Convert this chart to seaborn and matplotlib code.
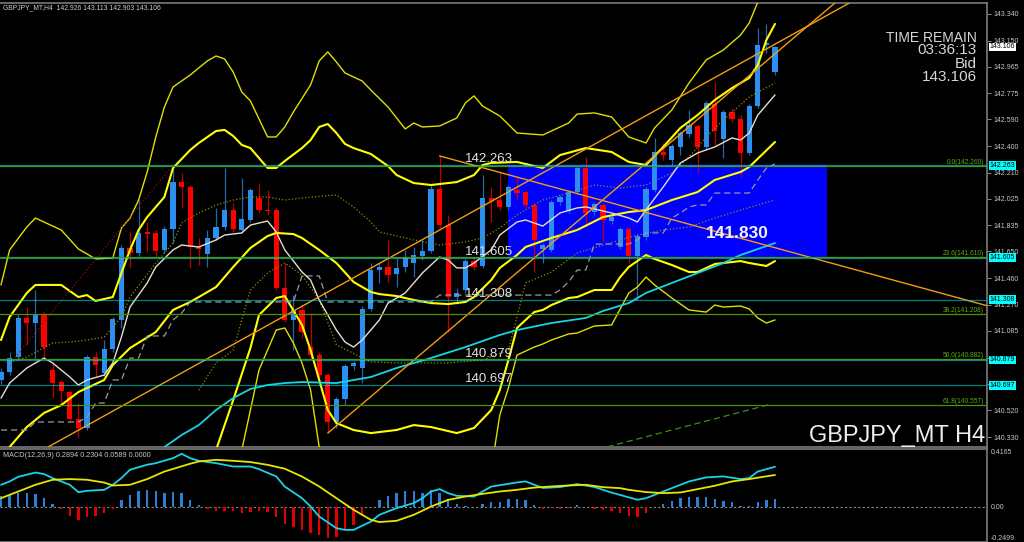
import numpy as np
import seaborn as sns
import matplotlib.pyplot as plt
from matplotlib.patches import Rectangle

# ---- H4 candles GBPJPY (oldest -> newest) ----
opens = [140.736, 140.792, 140.899, 141.177, 141.141, 141.205, 140.807, 140.721, 140.650, 140.458,
         140.394, 140.899, 140.785, 140.956, 141.163, 141.675, 141.639, 141.789, 141.782, 141.661,
         141.810, 142.145, 142.109, 141.682, 141.632, 141.746, 141.824, 141.945, 141.803, 141.874,
         142.031, 141.945, 141.945, 141.390, 141.163, 141.234, 140.970, 140.913, 140.771, 140.437,
         140.600, 140.835, 140.821, 141.241, 141.518, 141.540, 141.490, 141.540, 141.568, 141.618,
         141.654, 142.095, 141.839, 141.326, 141.376, 141.582, 141.547, 142.031, 142.016, 141.967,
         142.088, 142.073, 141.981, 141.668, 141.661, 142.002, 141.938, 142.073, 142.244, 141.931,
         141.981, 141.867, 141.682, 141.810, 141.618, 141.753, 142.088, 142.358, 142.301, 142.394,
         142.486, 142.543, 142.394, 142.700, 142.450, 142.643, 142.593, 142.351, 142.685, 143.119,
         142.926]
highs = [140.821, 140.935, 141.205, 141.255, 141.376, 141.219, 140.857, 140.736, 140.664, 140.572,
         140.913, 140.935, 141.020, 141.184, 141.696, 141.789, 142.016, 141.860, 141.803, 141.831,
         142.251, 142.209, 142.123, 141.746, 141.803, 141.960, 142.244, 141.995, 142.173, 142.102,
         142.137, 142.088, 141.960, 141.568, 141.340, 141.269, 141.212, 140.935, 140.785, 140.615,
         140.849, 140.871, 141.262, 141.568, 141.568, 141.732, 141.604, 141.661, 141.682, 141.732,
         142.123, 142.330, 141.910, 141.390, 141.597, 141.604, 142.194, 142.109, 142.216, 142.123,
         142.187, 142.088, 141.995, 141.710, 142.016, 142.052, 142.088, 142.258, 142.322, 142.002,
         141.995, 141.910, 141.824, 141.824, 141.774, 142.109, 142.458, 142.422, 142.415, 142.507,
         142.657, 142.557, 142.721, 142.856, 142.657, 142.671, 142.621, 142.700, 143.240, 143.269,
         143.113]
lows = [140.707, 140.771, 140.878, 140.985, 140.878, 140.892, 140.615, 140.558, 140.444, 140.330,
        140.380, 140.757, 140.764, 140.935, 141.106, 141.533, 141.618, 141.646, 141.611, 141.639,
        141.710, 141.960, 141.533, 141.554, 141.540, 141.732, 141.803, 141.789, 141.782, 141.860,
        141.924, 141.910, 141.376, 141.148, 140.949, 141.034, 140.892, 140.750, 140.358, 140.394,
        140.558, 140.807, 140.714, 141.227, 141.426, 141.433, 141.397, 141.504, 141.469, 141.589,
        141.639, 141.817, 141.077, 141.276, 141.355, 141.518, 141.533, 141.860, 141.945, 141.945,
        142.016, 141.960, 141.504, 141.568, 141.646, 141.981, 141.924, 142.059, 141.824, 141.910,
        141.718, 141.846, 141.668, 141.568, 141.305, 141.732, 142.073, 142.301, 142.266, 142.337,
        142.465, 142.209, 142.372, 142.408, 142.315, 142.571, 142.180, 142.337, 142.671, 143.062,
        142.903]
closes = [140.792, 140.892, 141.177, 141.141, 141.205, 140.970, 140.714, 140.657, 140.458, 140.394,
          140.899, 140.842, 140.956, 141.170, 141.675, 141.639, 141.782, 141.774, 141.654, 141.810,
          142.145, 142.109, 141.682, 141.668, 141.746, 141.824, 141.945, 141.810, 141.881, 142.088,
          141.945, 141.938, 141.390, 141.163, 141.234, 141.077, 140.913, 140.771, 140.437, 140.600,
          140.835, 140.857, 141.241, 141.518, 141.540, 141.483, 141.533, 141.611, 141.625, 141.654,
          142.095, 141.839, 141.326, 141.355, 141.582, 141.540, 142.031, 142.009, 141.967, 142.109,
          142.066, 141.981, 141.732, 141.696, 142.002, 142.038, 142.073, 142.244, 141.924, 141.988,
          141.874, 141.895, 141.810, 141.618, 141.760, 142.095, 142.358, 142.337, 142.401, 142.493,
          142.550, 142.394, 142.707, 142.507, 142.643, 142.593, 142.351, 142.685, 143.119, 143.134,
          143.106]

# ---- indicator lines read at bar indices ----
bb3_up_idx = [0, 1, 3, 4, 7, 9, 11, 13, 14, 15, 16, 17, 18, 19, 20, 22, 24, 25, 26, 27,
              28, 29, 31, 32, 33, 34, 36, 37, 38, 39, 40, 42, 43, 45, 47, 48, 49, 51, 53, 54,
              55, 56, 58, 60, 63, 66, 67, 69, 71, 73, 75, 76, 78, 80, 82, 84, 86, 87, 88, 90]
bb3_up = [141.412, 141.661, 141.824, 141.888, 141.803, 141.668, 141.597, 141.604, 141.817, 141.888,
          142.016, 142.216, 142.465, 142.678, 142.820, 142.906, 143.006, 143.041, 143.020, 142.927,
          142.785, 142.721, 142.465, 142.465, 142.536, 142.643, 142.835, 143.006, 143.070, 142.998,
          142.920, 142.863, 142.799, 142.678, 142.522, 142.564, 142.536, 142.543, 142.600, 142.707,
          142.757, 142.685, 142.614, 142.493, 142.479, 142.564, 142.628, 142.636, 142.607, 142.465,
          142.422, 142.529, 142.657, 142.849, 143.013, 143.084, 143.190, 143.276, 143.425, 143.653]

bb2_up_idx = [0, 1, 3, 4, 7, 9, 10, 11, 13, 14, 15, 16, 17, 19, 20, 22, 23, 25, 26, 27,
              28, 29, 31, 32, 33, 35, 36, 37, 38, 39, 40, 41, 43, 45, 46, 48, 50, 53, 55, 56,
              57, 60, 63, 65, 68, 71, 73, 75, 77, 79, 81, 83, 85, 87, 88, 89, 90]
bb2_up = [141.020, 141.184, 141.355, 141.412, 141.412, 141.326, 141.340, 141.298, 141.326, 141.497,
          141.661, 141.803, 141.895, 142.038, 142.244, 142.372, 142.422, 142.507, 142.515, 142.472,
          142.408, 142.386, 142.244, 142.244, 142.294, 142.386, 142.443, 142.536, 142.557, 142.493,
          142.415, 142.386, 142.344, 142.258, 142.194, 142.137, 142.123, 142.144, 142.194, 142.265,
          142.280, 142.287, 142.244, 142.336, 142.386, 142.358, 142.287, 142.265, 142.394, 142.529,
          142.621, 142.728, 142.813, 142.885, 142.977, 143.155, 143.269]

bb_mid_idx = [1, 3, 5, 7, 9, 12, 13, 15, 18, 20, 22, 23, 25, 27, 29, 31, 32, 34, 35, 37,
              39, 41, 43, 44, 46, 48, 50, 52, 54, 55, 57, 58, 60, 61, 63, 64, 67, 70, 73, 75,
              78, 81, 83, 86, 87, 90]
bb_mid = [140.259, 140.401, 140.501, 140.557, 140.650, 140.736, 140.842, 140.963, 141.077, 141.234,
          141.291, 141.326, 141.397, 141.540, 141.675, 141.760, 141.782, 141.774, 141.746, 141.661,
          141.568, 141.433, 141.362, 141.347, 141.333, 141.305, 141.283, 141.276, 141.291, 141.326,
          141.447, 141.533, 141.625, 141.682, 141.725, 141.746, 141.803, 141.895, 141.931, 141.945,
          142.016, 142.073, 142.159, 142.216, 142.251, 142.429]

bb2_lo_idx = [25, 27, 29, 30, 32, 33, 35, 36, 37, 38, 39, 41, 43, 46, 48, 50, 53, 55, 57, 58,
              59, 60, 62, 63, 64, 66, 67, 69, 71, 72, 73, 75, 76, 78, 80, 81, 83, 84, 86, 87,
              89, 90]
bb2_lo = [140.237, 140.593, 140.963, 141.198, 141.319, 141.333, 141.127, 140.949, 140.736, 140.522,
          140.429, 140.380, 140.358, 140.380, 140.415, 140.401, 140.358, 140.394, 140.522, 140.664,
          140.878, 141.106, 141.219, 141.234, 141.269, 141.319, 141.326, 141.376, 141.376, 141.468,
          141.540, 141.625, 141.597, 141.554, 141.504, 141.504, 141.561, 141.568, 141.582, 141.568,
          141.547, 141.582]

# outer lower band leaves the window in the middle -> two pieces
bb3_lo_a_idx = [28, 29, 30, 32, 33, 34, 35, 36, 37, 38]
bb3_lo_a = [140.237, 140.522, 140.807, 141.091, 141.106, 140.998, 140.857, 140.664, 140.259, 140.060]
bb3_lo_b_idx = [57, 58, 59, 60, 62, 63, 64, 66, 67, 69, 71, 73, 74, 75, 76, 78, 80, 82, 83, 84,
                86, 87, 88, 89, 90]
bb3_lo_b = [140.095, 140.487, 140.679, 140.913, 140.970, 140.992, 141.020, 141.063, 141.070, 141.120,
            141.127, 141.355, 141.397, 141.468, 141.412, 141.319, 141.234, 141.219, 141.269, 141.255,
            141.262, 141.241, 141.177, 141.141, 141.163]

ma_fast_idx = [0, 1, 3, 5, 6, 8, 9, 10, 12, 13, 14, 15, 17, 18, 20, 21, 23, 25, 26, 28,
               29, 31, 32, 33, 35, 36, 37, 39, 40, 41, 42, 44, 45, 47, 49, 51, 52, 53, 54, 55,
               57, 58, 60, 61, 63, 65, 67, 68, 71, 73, 74, 75, 77, 79, 81, 83, 85, 86, 87, 88, 90]
ma_fast = [140.607, 140.714, 140.821, 140.892, 140.857, 140.757, 140.700, 140.736, 140.771, 140.857,
           141.041, 141.255, 141.426, 141.540, 141.661, 141.696, 141.682, 141.732, 141.767, 141.782,
           141.838, 141.867, 141.789, 141.661, 141.504, 141.447, 141.305, 141.091, 141.006, 140.970,
           141.020, 141.163, 141.283, 141.355, 141.497, 141.611, 141.589, 141.533, 141.533, 141.568,
           141.661, 141.767, 141.860, 141.874, 141.831, 141.924, 141.960, 141.967, 141.924, 141.888,
           141.860, 141.946, 142.109, 142.280, 142.351, 142.394, 142.458, 142.443, 142.493, 142.621,
           142.764]

ma_dot_up_idx = [1, 3, 6, 8, 10, 12, 14, 15, 18, 20, 21, 23, 25, 27, 29, 31, 33, 35, 39, 41,
                 43, 44, 48, 51, 54, 56, 58, 60, 63, 66, 69, 72, 75, 78, 80, 82, 84, 87, 90]
ma_dot_up = [140.863, 140.899, 140.999, 141.006, 141.020, 141.041, 141.184, 141.326, 141.568, 141.710,
             141.853, 141.924, 141.981, 142.016, 142.038, 142.038, 142.016, 142.031, 142.052, 141.967,
             141.860, 141.789, 141.732, 141.696, 141.718, 141.746, 141.817, 141.910, 142.017, 142.066,
             142.123, 142.102, 142.123, 142.209, 142.322, 142.465, 142.586, 142.749, 142.849]

ma_dot_lo_idx = [23, 25, 27, 29, 31, 33, 35, 37, 39, 43, 46, 52, 56, 59, 61, 64, 67, 70, 74, 77,
                 80, 83, 86, 90]
ma_dot_lo = [140.664, 140.857, 140.949, 141.376, 141.497, 141.568, 141.483, 141.305, 140.985, 140.864,
             140.857, 140.857, 140.878, 140.949, 141.426, 141.504, 141.639, 141.696, 141.767, 141.803,
             141.824, 141.888, 141.945, 142.017]

ma_slow_idx = [17, 19, 21, 23, 25, 27, 29, 31, 33, 35, 39, 43, 46, 50, 54, 58, 60, 64, 68, 70,
               73, 75, 78, 81, 84, 86, 90]
ma_slow = [140.131, 140.259, 140.344, 140.415, 140.522, 140.607, 140.672, 140.700, 140.714, 140.721,
           140.714, 140.757, 140.821, 140.892, 140.970, 141.056, 141.091, 141.141, 141.177, 141.227,
           141.283, 141.355, 141.426, 141.497, 141.568, 141.625, 141.710]

# stepped dashed line, one value per bar
kijun = [140.380, 140.380, 140.380, 140.380, 140.437, 140.437, 140.437, 140.437, 140.437, 140.437,
         140.472, 140.572, 140.572, 140.736, 140.736, 140.892, 140.892, 141.049, 141.049, 141.049,
         141.163, 141.212, 141.291, 141.291, 141.291, 141.291, 141.291, 141.291, 141.291, 141.291,
         141.291, 141.291, 141.291, 141.291, 141.291, 141.476, 141.476, 141.476, 141.291, 141.291,
         141.291, 141.291, 141.291, 141.291, 141.291, 141.291, 141.291, 141.291, 141.291, 141.291,
         141.291, 141.340, 141.340, 141.340, 141.340, 141.340, 141.340, 141.340, 141.340, 141.340,
         141.340, 141.340, 141.340, 141.340, 141.340, 141.376, 141.433, 141.518, 141.518, 141.703,
         141.703, 141.703, 141.703, 141.703, 141.732, 141.782, 141.782, 141.782, 141.888, 141.924,
         141.967, 141.981, 141.981, 142.066, 142.066, 142.066, 142.066, 142.066, 142.159, 142.244,
         142.273]

# drawn objects: trend lines (bar index, price) pairs
trend_a = ([5.5, 98.7], [140.260, 143.420])
trend_b = ([38.0, 97.0], [140.358, 143.420])
trend_c = ([51.0, 114.6], [142.330, 141.265])
red_dotted = ([1.4, 19.7], [140.878, 142.244])
green_dashed = ([70.5, 89.6], [140.260, 140.565])

rect_from, rect_to = 59, 96
rect_hi, rect_lo = 142.263, 141.605

hlines = [142.263, 141.605, 141.308, 140.879, 140.697]
fib_levels = [142.260, 141.610, 141.208, 140.882, 140.557]
fib_names = ['0.0', '23.6', '38.2', '50.0', '61.8']

price_ticks = [143.340, 143.150, 142.965, 142.775, 142.590, 142.400, 142.210, 142.025, 141.835,
               141.650, 141.460, 141.270, 141.085, 140.895, 140.705, 140.520, 140.330]
hidden_ticks = [140.895, 140.705]   # covered by the price boxes on the scale
bid = 143.106

# MACD panel
macd_idx = [0, 1, 2, 4, 5, 6, 8, 9, 10, 12, 13, 14, 15, 17, 18, 20, 21, 22, 23, 25,
            27, 29, 30, 32, 33, 35, 36, 37, 39, 40, 41, 43, 44, 46, 48, 49, 50, 51, 52, 53,
            55, 56, 57, 60, 61, 63, 65, 67, 69, 71, 74, 75, 77, 79, 80, 82, 84, 86, 87, 88, 90]
macd_main = [0.160, 0.184, 0.217, 0.248, 0.237, 0.208, 0.160, 0.107, 0.117, 0.124,
             0.160, 0.208, 0.268, 0.304, 0.315, 0.351, 0.382, 0.351, 0.332, 0.315,
             0.291, 0.291, 0.272, 0.220, 0.147, 0.064, 0.004, -0.067, -0.151, -0.163,
             -0.163, -0.104, -0.055, -0.007, 0.029, 0.064, 0.112, 0.129, 0.100, 0.081,
             0.076, 0.112, 0.147, 0.177, 0.184, 0.137, 0.144, 0.165, 0.144, 0.104,
             0.053, 0.064, 0.112, 0.160, 0.184, 0.213, 0.220, 0.201, 0.208, 0.255, 0.2894]
signal_idx = [0, 2, 4, 6, 8, 10, 12, 13, 15, 17, 19, 22, 23, 25, 27, 29, 31, 33, 35, 37,
              39, 41, 43, 44, 46, 48, 50, 52, 54, 56, 58, 60, 62, 64, 66, 68, 70, 72, 73, 75,
              77, 79, 81, 83, 85, 87, 90]
macd_signal = [0.064, 0.112, 0.160, 0.196, 0.201, 0.196, 0.176, 0.155, 0.160, 0.201,
               0.255, 0.311, 0.327, 0.339, 0.332, 0.323, 0.303, 0.275, 0.219, 0.148,
               0.064, -0.019, -0.091, -0.107, -0.098, -0.055, 0.004, 0.052, 0.076, 0.095,
               0.112, 0.124, 0.140, 0.148, 0.155, 0.160, 0.143, 0.136, 0.124, 0.108,
               0.100, 0.105, 0.129, 0.153, 0.184, 0.201, 0.2304]
osma = [0.080, 0.088, 0.104, 0.100, 0.093, 0.064, 0.023, -0.014, -0.063, -0.091,
        -0.071, -0.063, -0.043, -0.010, 0.053, 0.088, 0.117, 0.124, 0.112, 0.100,
        0.107, 0.100, 0.053, 0.016, -0.010, -0.027, -0.027, -0.031, -0.043, -0.034,
        -0.031, -0.036, -0.071, -0.120, -0.144, -0.163, -0.182, -0.198, -0.222, -0.211,
        -0.163, -0.127, -0.067, 0.000, 0.053, 0.081, 0.104, 0.112, 0.112, 0.104,
        0.124, 0.104, 0.057, 0.023, 0.009, 0.002, 0.023, 0.038, 0.040, 0.060,
        0.060, 0.053, 0.016, -0.013, -0.009, -0.013, -0.009, 0.016, 0.002, -0.013,
        -0.020, -0.031, -0.043, -0.067, -0.071, -0.043, 0.000, 0.023, 0.046, 0.064,
        0.076, 0.069, 0.071, 0.057, 0.047, 0.038, 0.009, 0.009, 0.036, 0.053,
        0.0589]

# ---------------- style ----------------
sns.set_theme(style="dark", rc={"axes.facecolor": "black", "figure.facecolor": "black",
                                "axes.edgecolor": "#7a7a7a", "text.color": "#d0d0d0"})
plt.rcParams['font.family'] = ['Liberation Sans', 'DejaVu Sans']

fig = plt.figure(figsize=(10.24, 5.42), dpi=100)
ax = fig.add_axes([0, 1 - 447 / 542, 987 / 1024, 444 / 542])
ax2 = fig.add_axes([0, 0, 987 / 1024, 93 / 542])

x_lim = (-0.116, 114.65)
bars = np.arange(len(opens))


def line(a, xs, ys, color, lw, ls='-', z=4):
    sns.lineplot(x=xs, y=ys, ax=a, color=color, linewidth=lw, linestyle=ls,
                 estimator=None, sort=False, legend=False, zorder=z)


# blue zone
ax.add_patch(Rectangle((rect_from, rect_lo), rect_to - rect_from, rect_hi - rect_lo,
                       fc='#0000ff', ec='none', zorder=1))

# candles
o = np.array(opens); c = np.array(closes)
up = c >= o
body_col = np.where(up, '#2b8ef0', '#ff0000')
wick_col = np.where(up, '#2466aa', '#c00000')
ax.vlines(bars, lows, highs, colors=wick_col, lw=0.9, zorder=3)
ax.bar(bars, np.maximum(np.abs(c - o), 0.004), bottom=np.minimum(o, c), width=0.6,
       color=body_col, linewidth=0, zorder=3)

# indicators
line(ax, bb3_up_idx, bb3_up, '#e0e000', 1.0)
line(ax, bb3_lo_a_idx, bb3_lo_a, '#e0e000', 1.0)
line(ax, bb3_lo_b_idx, bb3_lo_b, '#e0e000', 1.0)
line(ax, bb2_up_idx, bb2_up, '#ffff00', 1.5)
line(ax, bb_mid_idx, bb_mid, '#ffff00', 1.5)
line(ax, bb2_lo_idx, bb2_lo, '#ffff00', 1.5)
line(ax, ma_dot_up_idx, ma_dot_up, '#8f8f00', 0.9, ':')
line(ax, ma_dot_lo_idx, ma_dot_lo, '#8f8f00', 0.9, ':')
line(ax, list(bars), kijun, '#9a9a9a', 0.9, (0, (5, 3)))
line(ax, ma_slow_idx, ma_slow, '#19d3e6', 1.3)
line(ax, ma_fast_idx, ma_fast, '#e8dcd0', 1.0)

# drawn lines
line(ax, *red_dotted, '#8b1010', 0.9, ':', 5)
line(ax, *green_dashed, '#3f8f10', 0.9, (0, (5, 3)), 5)
for tl in (trend_a, trend_b, trend_c):
    line(ax, *tl, '#f39c12', 1.0, '-', 5)

# fibonacci + horizontal price lines
for lv, nm in zip(fib_levels, fib_names):
    ax.axhline(lv, color='#4f8f0a', lw=0.9, zorder=5)
    ax.text(0.997, lv, f"{nm}({lv:.3f})", transform=ax.get_yaxis_transform(),
            ha='right', va='bottom', fontsize=4.8, color='#5cae0a', zorder=6)
for lv in hlines:
    ax.axhline(lv, color='#00e8e8', lw=0.9, alpha=0.55, zorder=5)
    ax.text(54, lv, f"{lv:.3f}", ha='left', va='bottom', fontsize=9.5, color='#e2e2e2',
            zorder=6)
    ax.annotate(f"{lv:.3f}", xy=(1, lv), xycoords=ax.get_yaxis_transform(),
                xytext=(2, 0), textcoords='offset points', ha='left', va='center',
                fontsize=5, color='black', annotation_clip=False, zorder=7,
                bbox=dict(boxstyle='square,pad=0.12', fc='#00ffff', ec='none'))
ax.annotate(f"{bid:.3f}", xy=(1, bid), xycoords=ax.get_yaxis_transform(),
            xytext=(2, 0), textcoords='offset points', ha='left', va='center',
            fontsize=5, color='black', annotation_clip=False, zorder=7,
            bbox=dict(boxstyle='square,pad=0.12', fc='white', ec='none'))

ax.text(82, 141.83, "141.830", ha='left', va='top', fontsize=12.5, fontweight='bold',
        color='#f2f2f2', zorder=6)

# corner texts
ax.text(0.003, 0.9887, "GBPJPY_MT,H4  142.926 143.113 142.903 143.106", transform=ax.transAxes,
        ha='left', va='center', fontsize=4.9, color='#cfcfcf')
for txt, yy, fs in [("TIME REMAIN", 0.912, 10), ("03:36:13", 0.885, 11),
                    ("Bid", 0.8536, 11), ("143.106", 0.8243, 11)]:
    ax.text(0.9899, yy, txt, transform=ax.transAxes, ha='right', va='baseline',
            fontsize=fs, color='#d6d6d6')
ax.text(0.998, 0.012, "GBPJPY_MT H4", transform=ax.transAxes, ha='right', va='baseline',
        fontsize=17, color='#eeeeee')

ax.set_xlim(*x_lim)
ax.set_ylim(140.259, 143.418)
ax.yaxis.tick_right()
ax.set_yticks(price_ticks)
ax.set_yticklabels(['' if t in hidden_ticks else f"{t:.3f}" for t in price_ticks])
ax.tick_params(axis='y', right=True, colors='#8a8a8a', labelcolor='#c8c8c8', labelsize=5,
               length=3, width=0.7, pad=1.5, direction='out')
ax.tick_params(axis='x', bottom=False, labelbottom=False)
ax.set_xlabel(''); ax.set_ylabel('')
ax.spines['left'].set_visible(False)
for s in ('top', 'bottom', 'right'):
    ax.spines[s].set_color('#7a7a7a')
    ax.spines[s].set_linewidth(1.2)

# ---------------- MACD ----------------
hist_col = np.where(np.array(osma) >= 0, '#2a7fd8', '#e00000')
ax2.bar(bars, osma, width=0.28, color=hist_col, linewidth=0, zorder=3)
ax2.axhline(0, color='#8a8a8a', lw=0.8, ls=(0, (2, 2)), zorder=2)
line(ax2, macd_idx, macd_main, '#19d3e6', 1.3)
line(ax2, signal_idx, macd_signal, '#e6e600', 1.3)
ax2.set_xlim(*x_lim)
ax2.set_ylim(-0.2499, 0.4165)
ax2.set_xticks([]); ax2.set_yticks([])
ax2.set_xlabel(''); ax2.set_ylabel('')
ax2.spines['left'].set_visible(False)
for s in ('top', 'bottom', 'right'):
    ax2.spines[s].set_color('#7a7a7a')
    ax2.spines[s].set_linewidth(1.2)
ax2.text(0.003, 0.935, "MACD(12,26,9) 0.2894 0.2304 0.0589 0.0000", transform=ax2.transAxes,
         ha='left', va='center', fontsize=5.2, color='#c8c8c8')
for val, txt, va in [(0.4165, "0.4165", 'top'), (0.0, "0.00", 'center'), (-0.2499, "-0.2499", 'bottom')]:
    ax2.text(1.004, val, txt, transform=ax2.get_yaxis_transform(), ha='left', va=va,
             fontsize=5, color='#c8c8c8')

fig.savefig('out.png', dpi=100, facecolor='black')
